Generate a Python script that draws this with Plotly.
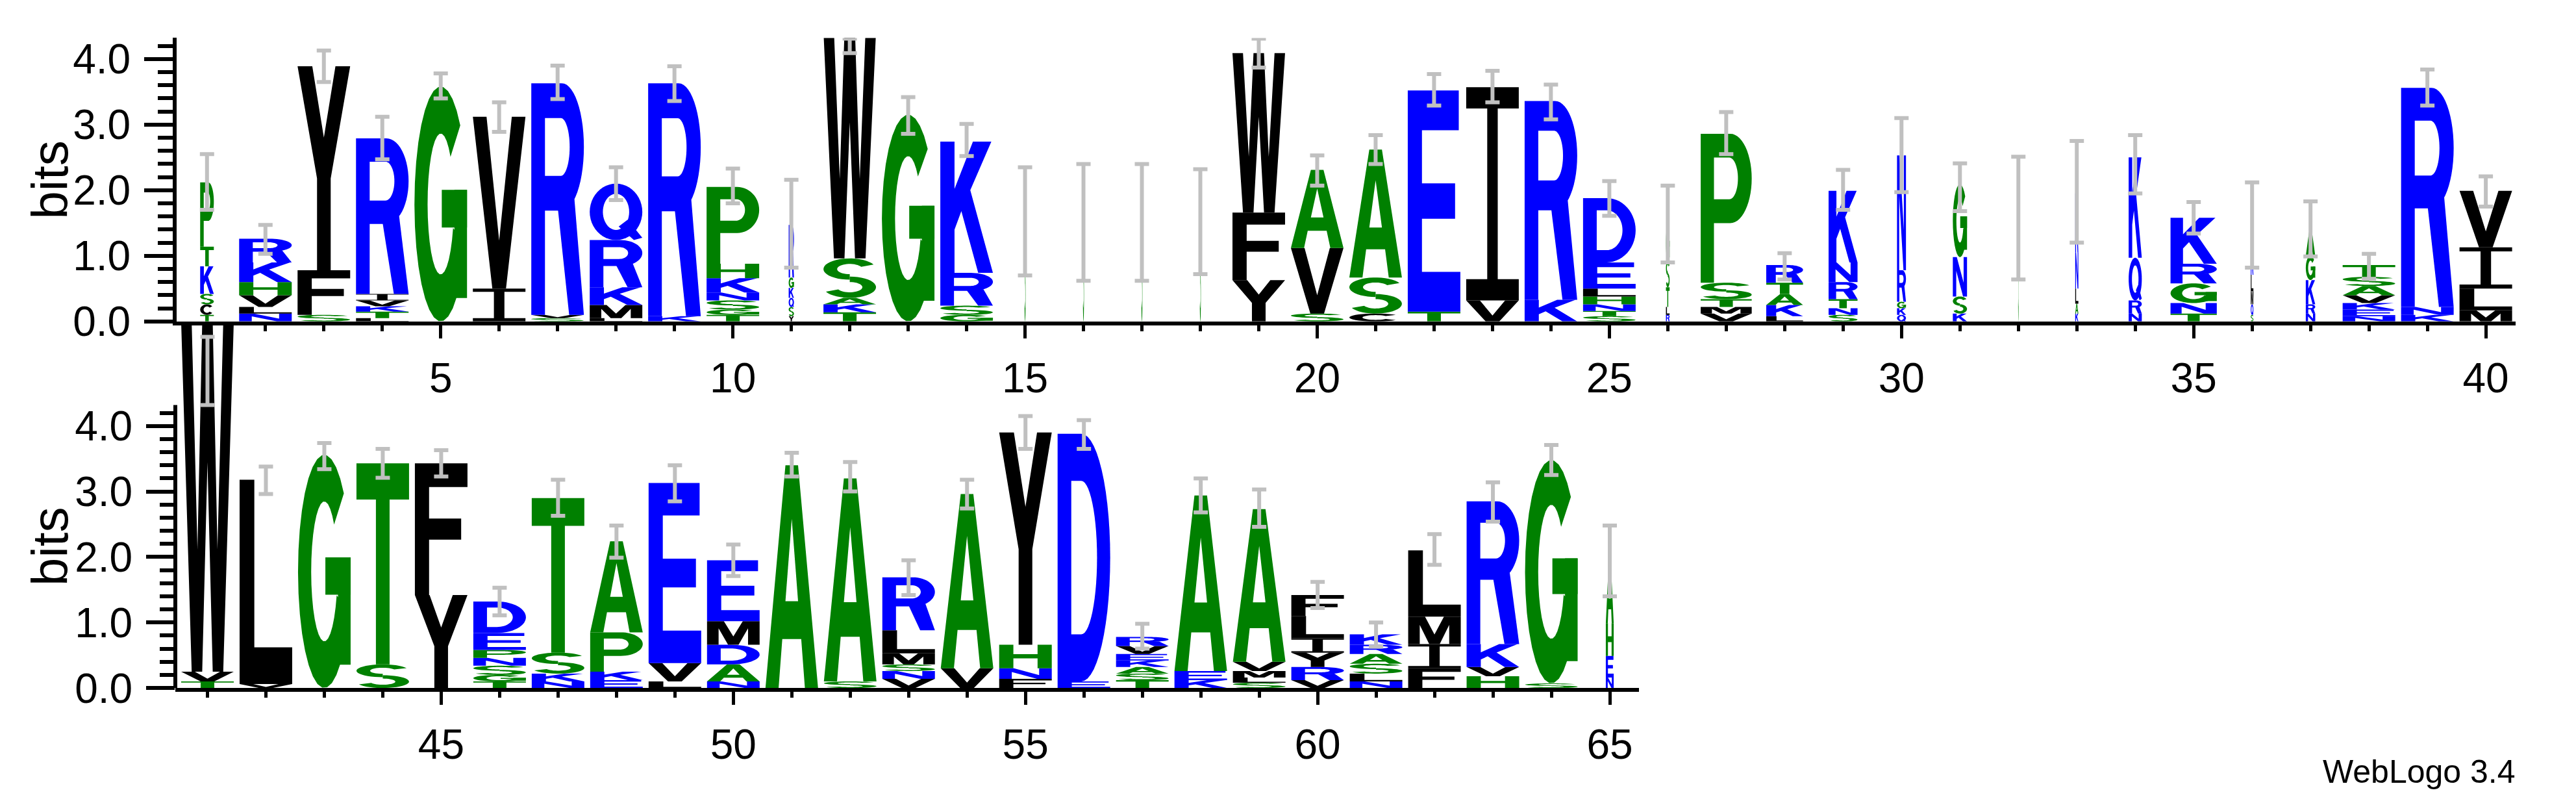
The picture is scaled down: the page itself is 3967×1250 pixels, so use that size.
import math
import plotly.graph_objects as go

# ---------------- data ----------------
positions = list(range(1, 66))
letters = ["TCSKTP", "NLVHKR", "SFY", "LTKVIR", "G", "IV", "SVR", "LMKRQ", "KR", "TGSNKHP",
           "YSQKGR", "TKASW", "G", "GSRK", "SQ", "S", "S", "SQ", "YFW", "SVA",
           "CSA", "TE", "VI", "KR", "STNHLED", "RLTSG", "VMTSP", "LKATR", "SNTRNK", "QKGRN",
           "KSNG", "S", "KALNK", "NRQK", "TNGRK", "SQMLRN", "NRKGA", "NEKVAST", "KNR", "MLIV",
           "TVW", "VL", "G", "ST", "YF", "TGSNPED", "NKST", "EKPA", "LVE", "NADME",
           "A", "SA", "VNSMLR", "VA", "FNHY", "ED", "TSAKEVR", "KEA", "SLMVA", "VRYILF",
           "NLSARK", "FIML", "HVKR", "SG", "NEHA"]
heights = [[.1, .16, .16, .42, .3, .98], [.12, .1, .18, .2, .3, .36], [.1, .68, 3.11], [.05, .1, .08, .09, .1, 2.37],
           [3.58], [.5, 2.62], [.05, .05, 3.53], [.05, .2, .27, .72, .86], [.08, 3.55], [.1, .08, .14, .12, .22, .22, 1.17],
           [.08, .14, .14, .15, .16, .8], [.14, .12, .1, .6, 3.46], [3.15], [.1, .14, .5, 2.0], [1.45, .07], [1.5], [1.5],
           [1.45, .07], [.63, 1.03, 2.43], [.12, 1.0, 1.19],
           [.12, .55, 1.95], [.15, 3.37], [.32, 3.25], [.33, 3.03], [.08, .08, .1, .12, .12, .4, .98], [.1, .12, .3, .4, .55],
           [.12, .1, .12, .25, 2.27], [.08, .17, .17, .17, .27], [.1, .1, .14, .26, .3, 1.09], [.1, .1, .1, .48, 1.75],
           [.12, .26, .6, 1.11], [1.64], [.12, .15, .23, .55, .9], [.12, .2, .65, 1.53], [.12, .16, .3, .3, .7],
           [.1, .16, .2, .25, .3, .45], [.12, .14, .37, .37, .4], [.08, .1, .1, .12, .14, .14, .18], [.1, .12, 3.34],
           [.17, .33, .63, .86],
           [.1, .15, 5.33], [.06, 3.12], [3.56], [.36, 3.07], [1.42, 2.01], [.1, .1, .14, .12, .12, .26, .48],
           [.1, .12, .32, 2.36], [.12, .13, .6, 1.39], [.1, .28, 2.75], [.1, .26, .3, .36, .93],
           [3.4], [.1, 3.1], [.14, .12, .1, .17, .35, .81], [.3, 2.66], [.14, .16, .36, 3.24], [.1, 3.78],
           [.12, .1, .1, .1, .1, .12, .14], [.12, .14, 2.68], [.08, .08, .1, .14, 2.33], [.12, .2, .22, .22, .34, .32],
           [.1, .12, .15, .15, .14, .16], [.3, .37, .42, 1.01], [.18, .14, .35, 2.18], [.07, 3.41], [.16, .33, .5, .96]]
widths = [.26, 1, 1, 1, 1, 1, 1, 1, 1, 1,
          .1, 1, 1, 1, .02, .02, .02, .02, 1, 1,
          1, 1, 1, 1, 1, .07, .97, .7, .55, .17,
          .27, .01, .06, .25, .88, .05, .18, 1, 1, 1,
          1, 1, 1, 1, 1, 1, 1, 1, 1, 1,
          1, 1, 1, 1, 1, 1, 1, 1, 1, 1,
          1, 1, 1, 1, .15]
err_lo = [1.7, 1.03, 3.65, 2.47, 3.4, 2.89, 3.39, 1.85, 3.36, 1.8,
          .82, 4.09, 2.86, 2.52, .7, .62, .62, .72, 3.87, 2.07,
          2.4, 3.29, 3.34, 3.08, 1.61, .9, 2.55, .64, 1.7, 1.97,
          1.68, .64, 1.2, 1.95, 1.34, .82, .99, .65, 3.29, 1.75,
          4.32, 2.96, 3.34, 3.21, 3.23, 1.11, 2.63, 1.99, 2.85, 1.71,
          3.23, 3.0, 1.42, 2.74, 3.65, 3.65, .6, 2.68, 2.46, 1.22,
          .63, 1.88, 2.54, 3.25, 1.4]
err_hi = [2.55, 1.47, 4.13, 3.12, 3.78, 3.34, 3.9, 2.35, 3.89, 2.33,
          2.16, 4.31, 3.42, 3.01, 2.35, 2.4, 2.4, 2.32, 4.31, 2.53,
          2.84, 3.77, 3.82, 3.61, 2.14, 2.07, 3.19, 1.04, 2.31, 3.1,
          2.41, 2.51, 2.75, 2.84, 1.82, 2.12, 1.83, 1.03, 3.84, 2.21,
          5.36, 3.38, 3.74, 3.65, 3.63, 1.53, 3.18, 2.48, 3.4, 2.19,
          3.59, 3.45, 1.95, 3.18, 4.15, 4.09, .98, 3.2, 3.03, 1.62,
          1.0, 2.35, 3.14, 3.71, 2.48]
row_split = 40
x_tick_major = [5, 10, 15, 20, 25, 30, 35, 40, 45, 50, 55, 60, 65]
y_ticks = [0, 1, 2, 3, 4]
y_tick_text = ["0.0", "1.0", "2.0", "3.0", "4.0"]

GREEN, BLUE, BLACK = "#008000", "#0000ff", "#000000"
colors = {}
for c in "AGSTHP":
    colors[c] = GREEN
for c in "NQKRDE":
    colors[c] = BLUE
for c in "YFWVILMC":
    colors[c] = BLACK


# ---------------- glyphs (unit box) ----------------
def arc(cx, cy, rx, ry, a0, a1, n=28):
    return [(cx + rx * math.cos(math.radians(a0 + (a1 - a0) * i / n)),
             cy + ry * math.sin(math.radians(a0 + (a1 - a0) * i / n))) for i in range(n + 1)]


def rect(x0, y0, x1, y1):
    return [(x0, y0), (x1, y0), (x1, y1), (x0, y1)]


def glyph(c):
    # returns list of (polygon, is_hole)
    if c == "A":
        return [([(0, 0), (.25, 0), (.32, .22), (.68, .22), (.75, 0), (1, 0), (.62, 1), (.38, 1)], False),
                ([(.38, .39), (.62, .39), (.5, .76)], True)]
    if c == "C":
        return [(arc(.5, .5, .5, .5, 40, 320) + arc(.5, .5, .25, .3, 320, 40), False)]
    if c == "G":
        return [(arc(.5, .5, .5, .5, 42, 340) + arc(.5, .5, .25, .3, 340, 42), False),
                (rect(.52, .4, 1, .56), False), (rect(.76, .1, 1, .56), False)]
    if c == "D":
        return [([(0, 0), (.45, 0)] + arc(.45, .5, .55, .5, -90, 90) + [(0, 1)], False),
                ([(.26, .19), (.45, .19)] + arc(.45, .5, .3, .31, -90, 90) + [(.26, .81)], True)]
    if c == "E":
        return [([(0, 0), (1, 0), (1, .18), (.27, .18), (.27, .42), (.9, .42), (.9, .58), (.27, .58),
                  (.27, .82), (.97, .82), (.97, 1), (0, 1)], False)]
    if c == "F":
        return [([(0, 0), (.27, 0), (.27, .42), (.88, .42), (.88, .58), (.27, .58), (.27, .82), (1, .82),
                  (1, 1), (0, 1)], False)]
    if c == "H":
        return [([(0, 0), (.27, 0), (.27, .42), (.73, .42), (.73, 0), (1, 0), (1, 1), (.73, 1), (.73, .6),
                  (.27, .6), (.27, 1), (0, 1)], False)]
    if c == "I":
        return [([(0, 0), (1, 0), (1, .1), (.6, .1), (.6, .9), (1, .9), (1, 1), (0, 1), (0, .9), (.4, .9),
                  (.4, .1), (0, .1)], False)]
    if c == "K":
        return [([(0, 0), (.27, 0), (.27, .33), (.4, .47), (.72, 0), (1, 0), (.57, .63), (.97, 1), (.62, 1),
                  (.27, .64), (.27, 1), (0, 1)], False)]
    if c == "L":
        return [([(0, 0), (1, 0), (1, .18), (.28, .18), (.28, 1), (0, 1)], False)]
    if c == "M":
        return [([(0, 0), (.22, 0), (.22, .7), (.4, 0), (.6, 0), (.78, .7), (.78, 0), (1, 0), (1, 1), (.68, 1),
                  (.5, .35), (.32, 1), (0, 1)], False)]
    if c == "N":
        return [([(0, 0), (.24, 0), (.24, .65), (.72, 0), (1, 0), (1, 1), (.76, 1), (.76, .35), (.28, 1),
                  (0, 1)], False)]
    if c == "P":
        return [([(0, 0), (.26, 0), (.26, .4), (.58, .4)] + arc(.58, .7, .42, .3, -90, 90) + [(0, 1)], False),
                ([(.26, .56), (.56, .56)] + arc(.56, .7, .17, .14, -90, 90) + [(.26, .84)], True)]
    if c == "R":
        return [([(0, 0), (.26, 0), (.26, .45), (.58, .45)] + arc(.58, .725, .42, .275, -90, 90) + [(0, 1)], False),
                ([(.26, .6), (.56, .6)] + arc(.56, .725, .17, .125, -90, 90) + [(.26, .85)], True),
                ([(.5, .47), (.72, 0), (1, 0), (.82, .5)], False)]
    if c == "Q":
        return [(arc(.5, .5, .5, .5, 0, 360, 48), False),
                (arc(.5, .5, .25, .32, 0, 360, 48), True),
                ([(.55, .24), (.72, .36), (1, .04), (.84, 0)], False)]
    if c == "S":
        up = arc(.5, .73, .5, .27, 25, 270) + arc(.5, .73, .24, .13, 270, 25)
        lo = arc(.5, .27, .5, .27, 90, -155) + arc(.5, .27, .24, .13, -155, 90)
        return [(up, False), (lo, False)]
    if c == "T":
        return [([(.37, 0), (.63, 0), (.63, .82), (1, .82), (1, 1), (0, 1), (0, .82), (.37, .82)], False)]
    if c == "V":
        return [([(.37, 0), (.63, 0), (1, 1), (.74, 1), (.5, .28), (.26, 1), (0, 1)], False)]
    if c == "W":
        return [([(.2, 0), (.4, 0), (.5, .6), (.6, 0), (.8, 0), (1, 1), (.8, 1), (.69, .35), (.6, 1), (.4, 1),
                  (.31, .35), (.2, 1), (0, 1)], False)]
    if c == "Y":
        return [([(.37, 0), (.63, 0), (.63, .45), (1, 1), (.72, 1), (.5, .65), (.28, 1), (0, 1), (.37, .45)], False)]
    return [(rect(0, 0, 1, 1), False)]


def to_path(poly, x0, y0, w, h):
    pts = ["%.4f,%.4f" % (x0 + px * w, y0 + py * h) for px, py in poly]
    return "M" + " L".join(pts) + " Z"


# ---------------- figure ----------------
fig = go.Figure()
shapes = []
LETTER_W = 0.9
for i, pos in enumerate(positions):
    ax = "" if pos <= row_split else "2"
    w = LETTER_W * widths[i]
    y = 0.0
    for c, h in zip(letters[i], heights[i]):
        for poly, hole in glyph(c):
            col = "white" if hole else colors[c]
            shapes.append(dict(type="path", path=to_path(poly, pos - w / 2, y, w, h), xref="x" + ax,
                               yref="y" + ax, fillcolor=col, line=dict(width=0), layer="below"))
        y += h

for ax, sel in (("", [p <= row_split for p in positions]), ("2", [p > row_split for p in positions])):
    xs = [p for p, s in zip(positions, sel) if s]
    lo = [v for v, s in zip(err_lo, sel) if s]
    hi = [v for v, s in zip(err_hi, sel) if s]
    fig.add_trace(go.Scatter(
        x=xs, y=[(a + b) / 2 for a, b in zip(lo, hi)], mode="markers", xaxis="x" + ax, yaxis="y" + ax,
        marker=dict(size=1, color="rgba(0,0,0,0)"), hoverinfo="skip", showlegend=False,
        error_y=dict(type="data", symmetric=True, array=[(b - a) / 2 for a, b in zip(lo, hi)],
                     color="#c0c0c0", thickness=6, width=11)))

# bottom-panel y axis line (only up to the entropy limit)
shapes.append(dict(type="line", xref="x2 domain", yref="y2", x0=0, x1=0, y0=0, y1=4.32,
                   line=dict(color="black", width=6)))

FONT = "Liberation Sans, Arial, sans-serif"
top_minor = [round(0.2 * k, 1) for k in range(1, 22) if k % 5]
xcommon = dict(showgrid=False, zeroline=False, showline=True, linecolor="black", linewidth=6,
               ticks="outside", ticklen=20, tickwidth=5, tickcolor="black", tickvals=x_tick_major,
               ticktext=[str(v) for v in x_tick_major], tickfont=dict(family=FONT, size=64, color="black"),
               ticklabelstandoff=6)
ycommon = dict(showgrid=False, zeroline=False, ticks="outside", ticklen=44, tickwidth=6, tickcolor="black",
               tickvals=y_ticks, ticktext=y_tick_text, tickfont=dict(family=FONT, size=64, color="black"),
               ticklabelstandoff=8,
               minor=dict(tickvals=top_minor, ticklen=23, tickwidth=6, tickcolor="black", ticks="outside"))

fig.update_layout(
    width=3967, height=1250, margin=dict(l=0, r=0, t=0, b=0),
    paper_bgcolor="white", plot_bgcolor="rgba(0,0,0,0)", showlegend=False, shapes=shapes,
    xaxis=dict(xcommon, domain=[264 / 3967, 3866 / 3967], range=[0.48, 40.51], anchor="y",
               minor=dict(tickvals=positions[:row_split], ticklen=9, tickwidth=5, tickcolor="black", ticks="outside")),
    yaxis=dict(ycommon, domain=[0.6, 0.96], range=[0, 4.32], anchor="x", showline=True, linecolor="black",
               linewidth=6),
    xaxis2=dict(xcommon, domain=[262 / 3967, 2516 / 3967], range=[40.45, 65.5], anchor="y2",
                minor=dict(tickvals=positions[row_split:], ticklen=9, tickwidth=5, tickcolor="black",
                           ticks="outside")),
    yaxis2=dict(ycommon, domain=[0.1344, 0.6045], range=[0, 5.65], anchor="x2", showline=False),
    annotations=[
        dict(text="bits", xref="paper", yref="paper", x=69 / 3967, y=1 - 276 / 1250, showarrow=False,
             xanchor="center", yanchor="middle", textangle=-90,
             font=dict(family=FONT, size=78, color="black")),
        dict(text="bits", xref="paper", yref="paper", x=69 / 3967, y=1 - 858 / 1250, showarrow=False,
             xanchor="center", yanchor="middle", textangle=-90,
             font=dict(family=FONT, size=78, color="black")),
        dict(text="WebLogo 3.4", xref="paper", yref="paper", x=3717 / 3967, y=1 - 1215 / 1250, showarrow=False,
             xanchor="center", yanchor="middle", font=dict(family=FONT, size=50, color="black")),
    ],
)
fig.write_html("out.html")
